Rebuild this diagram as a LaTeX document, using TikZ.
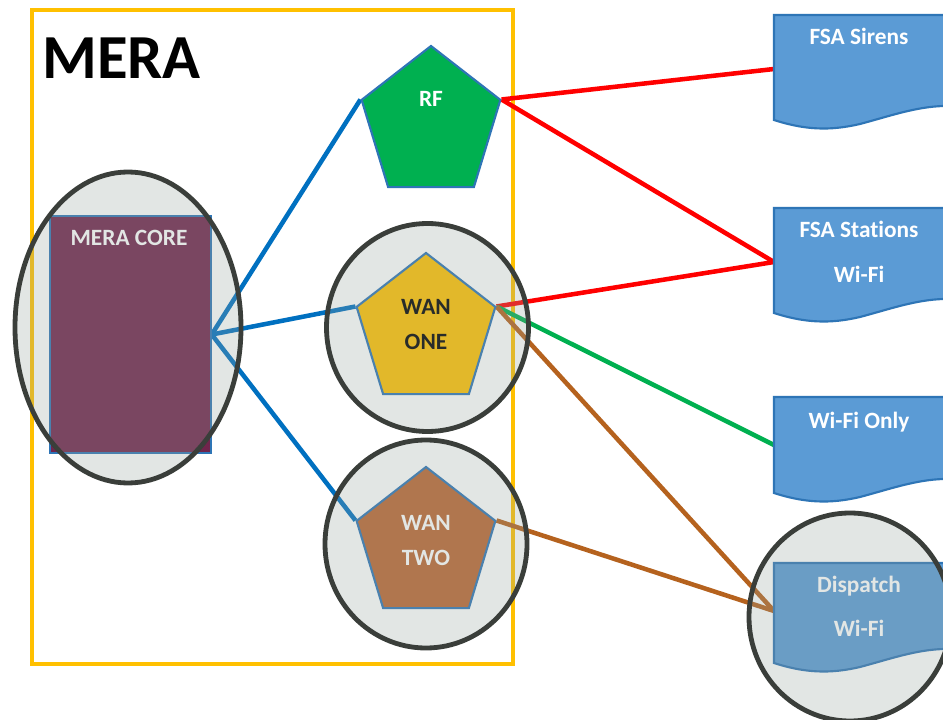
\documentclass[tikz,border=0pt]{standalone}
\usepackage{fontspec}
\setmainfont[Ligatures=NoCommon]{Carlito}
\usetikzlibrary{shapes.geometric}
\definecolor{frameyellow}{RGB}{255,192,0}
\definecolor{linkblue}{RGB}{0,112,192}
\definecolor{linkred}{RGB}{255,0,0}
\definecolor{linkgreen}{RGB}{0,176,80}
\definecolor{linkbrown}{RGB}{181,98,30}
\definecolor{docfill}{RGB}{91,155,213}
\definecolor{docedge}{RGB}{46,117,182}
\definecolor{corefill}{RGB}{112,36,76}
\definecolor{rfgreen}{RGB}{0,176,80}
\definecolor{wangold}{RGB}{255,192,0}
\definecolor{wanbrown}{RGB}{186,102,50}
\definecolor{hlfill}{RGB}{150,163,156}
\definecolor{hledge}{RGB}{58,62,58}
\pgfdeclarelayer{bg}
\pgfdeclarelayer{top}
\pgfsetlayers{bg,main,top}
\newcommand\docshape[2]{%
  \path[doc] (774,#1) -- (960,#1) -- (960,#2-14) -- (943,#2-14)
    .. controls (915,#2-13) and (890,#2-4) .. (860,#2+4)
    .. controls (830,#2+11) and (805,#2+10) .. (774,#2) -- cycle;}
\begin{document}
\begin{tikzpicture}[x=0.75pt,y=-0.75pt,
  link/.style={line width=3.4pt},
  pent/.style={regular polygon, regular polygon sides=5, minimum size=117pt,
    inner sep=0pt, draw=docedge, line width=1.6pt, xscale=0.935},
  lbl/.style={anchor=base, inner sep=0pt, font=\fontsize{17.5}{21}\selectfont\bfseries},
  hl/.style={ellipse, draw=hledge, line width=3.6pt, fill=hlfill, fill opacity=0.27, inner sep=0pt},
  doc/.style={fill=docfill, draw=docedge, line width=1.6pt}]
\useasboundingbox (0,0) rectangle (943,720);

% main layer: shapes and texts
\node[anchor=base west, inner sep=0pt, font=\fontsize{47}{50}\selectfont\bfseries] (mera) at (42,79) {MERA};
\node[draw=docedge, line width=1.1pt, fill=corefill, minimum width=120.75pt,
  minimum height=177.75pt, inner sep=0pt] (core) at (130.5,334.5) {};
\node[lbl, text=white] (coretxt) at (129,246) {MERA CORE};

\node[pent, fill=rfgreen] (rf) at (431,124) {};
\node[pent, fill=wangold] (wan1) at (426,331) {};
\node[pent, fill=wanbrown] (wan2) at (426,545) {};
\node[lbl, text=white] (rftxt) at (431,107) {RF};
\node[lbl, text=black] (wan1a) at (426,315) {WAN};
\node[lbl, text=black] (wan1b) at (426,350) {ONE};
\node[lbl, text=white] (wan2a) at (426,530) {WAN};
\node[lbl, text=white] (wan2b) at (426,565) {TWO};

\docshape{15}{120}
\docshape{208}{313}
\docshape{397}{493}
\docshape{563}{663}
\coordinate (sirensW) at (774,69);
\coordinate (stationsW) at (774,262);
\coordinate (wifiW) at (774,445);
\coordinate (dispW) at (774,611);
\node[lbl, text=white] (sirens) at (859,45) {FSA Sirens};
\node[lbl, text=white] (stations) at (859,238) {FSA Stations};
\node[lbl, text=white] (stationswifi) at (859,283) {Wi-Fi};
\node[lbl, text=white] (wifionly) at (859,428) {Wi-Fi Only};
\node[lbl, text=white] (dispatch) at (859,592) {Dispatch};
\node[lbl, text=white] (dispatchwifi) at (859,636) {Wi-Fi};

% background layer: white ground, frame and links
\begin{pgfonlayer}{bg}
\fill[white] (0,0) rectangle (943,720);
\draw[frameyellow, line width=3.4pt] (32,10) rectangle (513,664);
\draw[link, linkblue] (core.east) -- (rf.corner 2);
\draw[link, linkblue] (core.east) -- (wan1.corner 2);
\draw[link, linkblue] (core.east) -- (wan2.corner 2);
\draw[link, linkred] (rf.corner 5) -- (sirensW);
\draw[link, linkred] (rf.corner 5) -- (stationsW);
\draw[link, linkred] (wan1.corner 5) -- (stationsW);
\draw[link, linkgreen] (wan1.corner 5) -- (wifiW);
\draw[link, linkbrown] (wan1.corner 5) -- (dispW);
\draw[link, linkbrown] (wan2.corner 5) -- (dispW);
\end{pgfonlayer}

% top layer: translucent highlight circles
\begin{pgfonlayer}{top}
\node[hl, minimum width=169.5pt, minimum height=233.25pt] (hlcore) at (128,327.5) {};
\node[hl, minimum width=151.5pt, minimum height=156pt] (hlwan1) at (427.5,327.5) {};
\node[hl, minimum width=151.5pt, minimum height=156pt] (hlwan2) at (426,544) {};
\node[hl, minimum width=151.5pt, minimum height=156pt] (hldisp) at (850,617) {};
\end{pgfonlayer}
\end{tikzpicture}
\end{document}
